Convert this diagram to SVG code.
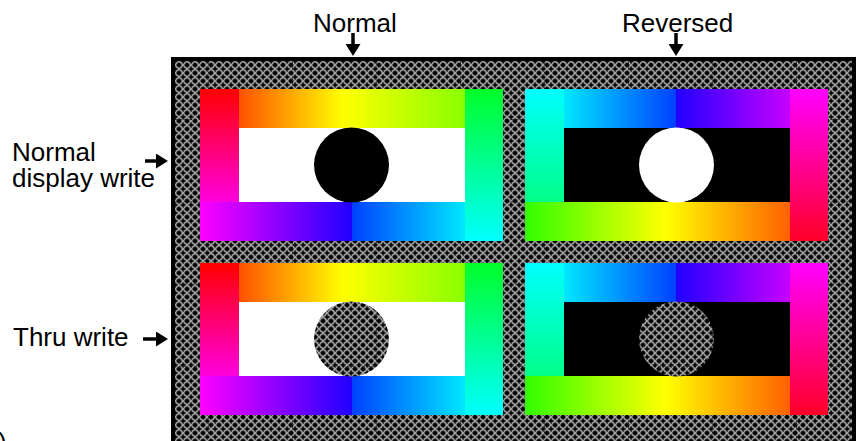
<svg xmlns="http://www.w3.org/2000/svg" xmlns:xlink="http://www.w3.org/1999/xlink" width="856" height="441" viewBox="0 0 856 441">
<style>
.lbl{font-family:"Liberation Sans",Arial,sans-serif;font-size:26px;fill:#000}
.stem{stroke:#000;stroke-width:3.5;fill:none;marker-end:url(#head)}
</style>
<defs>
<marker id="head" markerUnits="userSpaceOnUse" viewBox="0 0 12 15" refX="0" refY="7.5" markerWidth="12" markerHeight="15" orient="auto">
<path d="M0,0 L12,7.5 L0,15 Z" fill="#000"/>
</marker>
<pattern id="chk" patternUnits="userSpaceOnUse" x="175" y="61" width="8" height="8">
<rect width="8" height="8" fill="#333"/>
<circle cx="4" cy="4" r="3.1" fill="none" stroke="#a8a8a8" stroke-width="1.2"/>
<path d="M4,1 L4.9,3.1 L7,4 L4.9,4.9 L4,7 L3.1,4.9 L1,4 L3.1,3.1Z" fill="#000"/>
<path d="M0,-2 L0.7,-0.7 L2,0 L0.7,0.7 L0,2 L-0.7,0.7 L-2,0 L-0.7,-0.7Z M8,-2 L8.7,-0.7 L10,0 L8.7,0.7 L8,2 L7.3,0.7 L6,0 L7.3,-0.7Z M0,6 L0.7,7.3 L2,8 L0.7,8.7 L0,10 L-0.7,8.7 L-2,8 L-0.7,7.3Z M8,6 L8.7,7.3 L10,8 L8.7,8.7 L8,10 L7.3,8.7 L6,8 L7.3,7.3Z" fill="#000"/>
<circle cx="4" cy="0" r="0.7" fill="#e8e8e8"/>
<circle cx="4" cy="8" r="0.7" fill="#e8e8e8"/>
<circle cx="0" cy="4" r="0.7" fill="#e8e8e8"/>
<circle cx="8" cy="4" r="0.7" fill="#e8e8e8"/>
</pattern>
<pattern id="seam" patternUnits="userSpaceOnUse" x="208" y="119" width="84" height="82.3">
<path d="M0.5,0 V82.3 M0,0.5 H84" stroke="#000" stroke-width="1" stroke-dasharray="3 2" opacity="0.6" fill="none"/>
</pattern>
<linearGradient id="nL" x1="0" y1="0" x2="0" y2="1"><stop offset="0" stop-color="#ff0000"/><stop offset="1" stop-color="#ff00e0"/></linearGradient>
<linearGradient id="nT" x1="0" y1="0" x2="1" y2="0"><stop offset="0" stop-color="#ff5000"/><stop offset="0.46" stop-color="#ffff00"/><stop offset="1" stop-color="#88ff00"/></linearGradient>
<linearGradient id="nR" x1="0" y1="0" x2="0" y2="1"><stop offset="0" stop-color="#00ff28"/><stop offset="1" stop-color="#00ffff"/></linearGradient>
<linearGradient id="nB" x1="0" y1="0" x2="1" y2="0"><stop offset="0" stop-color="#ff00ff"/><stop offset="0.572" stop-color="#2000ff"/><stop offset="0.572" stop-color="#0040ff"/><stop offset="1" stop-color="#00e8ff"/></linearGradient>
<linearGradient id="rL" x1="0" y1="0" x2="0" y2="1"><stop offset="0" stop-color="#00ffff"/><stop offset="1" stop-color="#00ff88"/></linearGradient>
<linearGradient id="rT" x1="0" y1="0" x2="1" y2="0"><stop offset="0" stop-color="#00e8ff"/><stop offset="0.496" stop-color="#0040ff"/><stop offset="0.496" stop-color="#2000ff"/><stop offset="1" stop-color="#c800ff"/></linearGradient>
<linearGradient id="rR" x1="0" y1="0" x2="0" y2="1"><stop offset="0" stop-color="#ff00ff"/><stop offset="1" stop-color="#ff0028"/></linearGradient>
<linearGradient id="rB" x1="0" y1="0" x2="1" y2="0"><stop offset="0" stop-color="#30ff00"/><stop offset="0.53" stop-color="#ffff00"/><stop offset="1" stop-color="#ff6000"/></linearGradient>
<g id="frameN">
<rect x="200" y="89" width="39" height="113" fill="url(#nL)"/>
<rect x="239" y="89" width="226" height="39" fill="url(#nT)"/>
<rect x="465" y="89" width="38" height="152" fill="url(#nR)"/>
<rect x="200" y="202" width="265" height="39" fill="url(#nB)"/>
</g>
<g id="frameR">
<rect x="525" y="89" width="39" height="113" fill="url(#rL)"/>
<rect x="564" y="89" width="226" height="39" fill="url(#rT)"/>
<rect x="790" y="89" width="38" height="152" fill="url(#rR)"/>
<rect x="525" y="202" width="265" height="39" fill="url(#rB)"/>
</g>
</defs>
<rect width="856" height="441" fill="#fff"/>
<g id="background">
<rect x="173" y="59" width="681" height="392" fill="url(#chk)" stroke="#000" stroke-width="4"/>
<rect x="175" y="61" width="677" height="380" fill="url(#seam)"/>
</g>
<g id="panel-normal-display">
<use xlink:href="#frameN" href="#frameN"/>
<rect x="239" y="128" width="226" height="74" fill="#fff"/>
<circle cx="351.5" cy="165" r="37.5" fill="#000"/>
</g>
<g id="panel-reversed-display">
<use xlink:href="#frameR" href="#frameR"/>
<rect x="564" y="128" width="226" height="74" fill="#000"/>
<circle cx="676.5" cy="165" r="37.5" fill="#fff"/>
</g>
<g id="panel-normal-thru">
<use xlink:href="#frameN" href="#frameN" transform="translate(0,174)"/>
<rect x="239" y="302" width="226" height="74" fill="#fff"/>
<circle cx="351.5" cy="339" r="37.5" fill="url(#chk)"/>
<circle cx="351.5" cy="339" r="37.5" fill="url(#seam)"/>
</g>
<g id="panel-reversed-thru">
<use xlink:href="#frameR" href="#frameR" transform="translate(0,174)"/>
<rect x="564" y="302" width="226" height="74" fill="#000"/>
<circle cx="676.5" cy="339" r="37.5" fill="url(#chk)"/>
<circle cx="676.5" cy="339" r="37.5" fill="url(#seam)"/>
</g>
<g id="labels">
<text class="lbl" x="313" y="32">Normal</text>
<text class="lbl" x="622" y="32">Reversed</text>
<text class="lbl" x="12" y="161">Normal</text>
<text class="lbl" x="12" y="187">display write</text>
<text class="lbl" x="13" y="346">Thru write</text>
<text class="lbl" x="-2" y="451">)</text>
</g>
<g id="connectors">
<line class="stem" x1="353" y1="33" x2="353" y2="44"/>
<line class="stem" x1="676" y1="33" x2="676" y2="44"/>
<line class="stem" x1="145" y1="161" x2="156" y2="161"/>
<line class="stem" x1="143" y1="339" x2="156" y2="339"/>
</g>
</svg>
